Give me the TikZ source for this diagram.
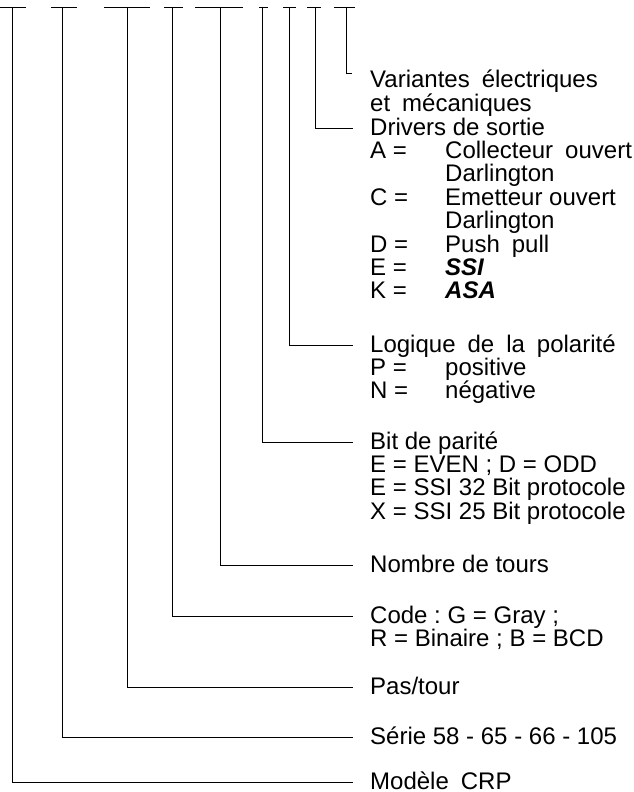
\documentclass[tikz,border=0pt]{standalone}
\usepackage{fontspec}
\setmainfont{Liberation Sans}
\usetikzlibrary{positioning}
\frenchspacing
\newcommand{\lblsize}{\fontsize{24}{23}\selectfont}
\newcommand{\opt}[2]{\makebox[75pt][l]{#1}#2}
\newcommand{\wsp}{\hspace{0.5em}}

\begin{document}
\begin{tikzpicture}[x=1pt, y=-1pt,
    lbl/.style={inner sep=0pt, anchor=base west, font=\lblsize,
        text height=18.5pt, text depth=4.5pt},
    sub/.style={lbl, below right=0pt and 0pt of #1},
    tick/.style={line width=0.9pt},
    wire/.style={line width=0.9pt, shorten >=17pt}
]
\useasboundingbox (0,0) rectangle (634,792);

% code positions on top
\draw[tick] (0,7) -- (26,7);     \coordinate (kModele) at (12.7,7);
\draw[tick] (51,7) -- (77,7);    \coordinate (kSerie) at (62,7);
\draw[tick] (104,7) -- (150,7);  \coordinate (kPas) at (127,7);
\draw[tick] (164,7) -- (183,7);  \coordinate (kCode) at (172,7);
\draw[tick] (195,7) -- (243,7);  \coordinate (kTours) at (220,7);
\draw[tick] (259,7) -- (268,7);  \coordinate (kParite) at (262,7);
\draw[tick] (283,7) -- (296,7);  \coordinate (kPolar) at (289,7);
\draw[tick] (307,7) -- (321,7);  \coordinate (kDrivers) at (315,7);
\draw[tick] (334,7) -- (355,7);  \coordinate (kVar) at (346,7);

% labels
\node[lbl] (variantes) at (370,88) {Variantes\wsp électriques};
\node[sub=variantes.south west] (variantes2) {et\wsp mécaniques};

\node[lbl] (drivers) at (370,135) {Drivers de sortie};
\node[sub=drivers.south west] (drvA) {\opt{A =}{Collecteur\wsp ouvert}};
\node[sub=drvA.south west] (drvA2) {\opt{}{Darlington}};
\node[sub=drvA2.south west] (drvC) {\opt{C =}{Emetteur ouvert}};
\node[sub=drvC.south west] (drvC2) {\opt{}{Darlington}};
\node[sub=drvC2.south west] (drvD) {\opt{D =}{Push\wsp pull}};
\node[sub=drvD.south west] (drvE) {\opt{E =}{\textbf{\textit{SSI}}}};
\node[sub=drvE.south west] (drvK) {\opt{K =}{\textbf{\textit{ASA}}}};

\node[lbl] (polar) at (370,352) {Logique\wsp de\wsp la\wsp polarité};
\node[sub=polar.south west] (polarP) {\opt{P =}{positive}};
\node[sub=polarP.south west] (polarN) {\opt{N =}{négative}};

\node[lbl] (parite) at (370,449) {Bit de parité};
\node[sub=parite.south west] (pariteE) {E = EVEN ; D = ODD};
\node[sub=pariteE.south west] (pariteS) {E = SSI 32 Bit protocole};
\node[sub=pariteS.south west] (pariteX) {X = SSI 25 Bit protocole};

\node[lbl] (tours) at (370,572) {Nombre de tours};

\node[lbl] (code) at (370,623) {Code : G = Gray ;};
\node[sub=code.south west] (code2) {R = Binaire ; B = BCD};

\node[lbl] (pas) at (370,694) {Pas/tour};
\node[lbl] (serie) at (370,744) {Série 58 - 65 - 66 - 105};
\node[lbl, text height=14pt, text depth=0pt] (modele) at (370,789) {Modèle\wsp CRP};

% connectors
\draw[wire, shorten >=18pt] (kVar) |- ([yshift=8pt]variantes.west);
\draw[wire] (kDrivers) |- (drivers.west);
\draw[wire] (kPolar) |- (polar.west);
\draw[wire] (kParite) |- (parite.west);
\draw[wire] (kTours) |- (tours.west);
\draw[wire] (kCode) |- (code.west);
\draw[wire] (kPas) |- (pas.west);
\draw[wire] (kSerie) |- (serie.west);
\draw[wire] (kModele) |- (modele.west);
\end{tikzpicture}
\end{document}
